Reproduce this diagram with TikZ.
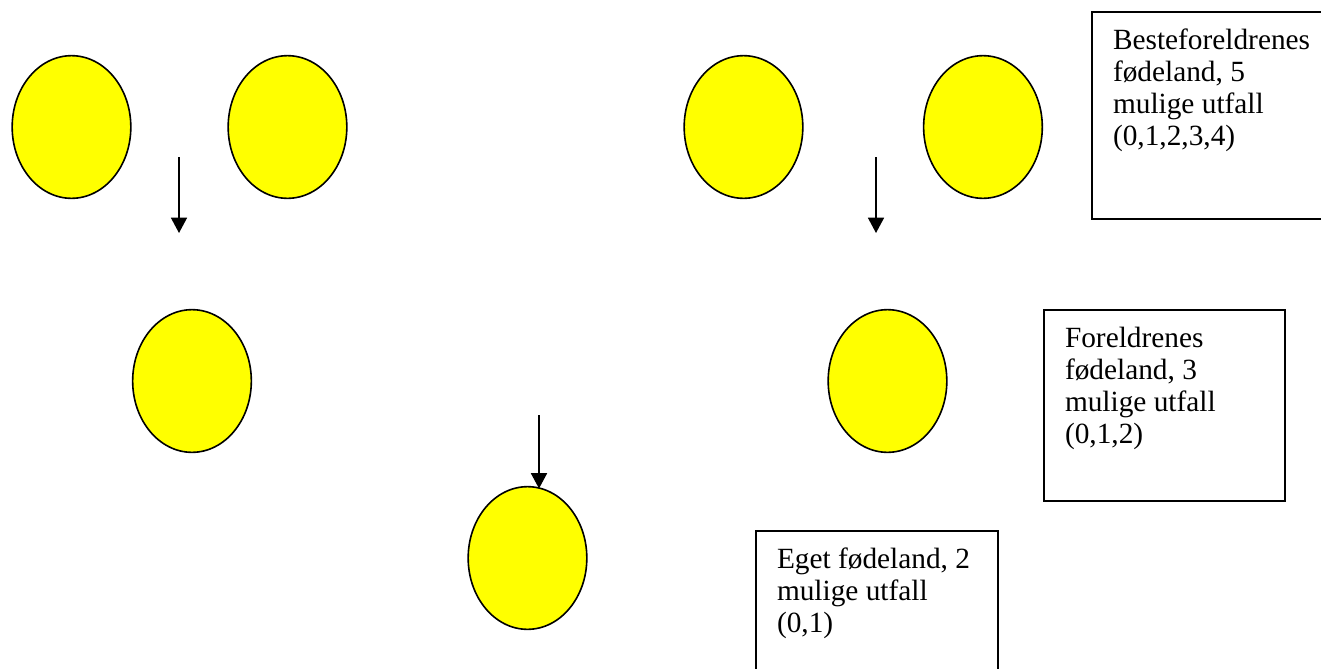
\documentclass[tikz,border=0pt]{standalone}
\usepackage{fontspec}
\setmainfont{Liberation Serif}
\usetikzlibrary{shapes.geometric,arrows.meta}
\definecolor{headyellow}{RGB}{255,255,0}

\begin{document}
\begin{tikzpicture}[
     x = 0.75pt, y = -0.75pt, % one unit is one pixel
     > = {Triangle[width=12pt,length=11.5pt]}, % arrow head style
     node distance = 162pt, % distance between nodes
     line width = 1.2pt % line style
 ]

 \tikzstyle{person}=[
     ellipse,
     draw = black,
     fill = headyellow,
     inner sep = 0pt,
     minimum width = 89pt,
     minimum height = 107pt
 ]
 \tikzstyle{infobox} = [
   draw = black,
   line width = 1.5pt,
   rectangle,
   anchor = north west,
   inner xsep = 15.75pt,
   inner ysep = 10.95pt,
   font = \fontsize{22}{24}\selectfont]

 \clip (0,0) rectangle (1321,668);

 \node[person] (gp1) at (71.5,127) {};
 \node[person] (gp2) [right of=gp1] {};
 \node[person] (gp3) at (743.5,127) {};
 \node[person] (gp4) [right of=gp3, node distance = 179.6pt] {};
 \node[person] (par1) at (192,381) {};
 \node[person] (par2) at (887.5,381) {};
 \node[person] (self) at (527.5,558) {};

 \coordinate (fromgp1) at (179,157);
 \coordinate (togp1) at (179,233);
 \coordinate (fromgp2) at (876,157);
 \coordinate (togp2) at (876,233);
 \coordinate (frompar) at (539,415);

 \draw[->] (fromgp1) -- (togp1);
 \draw[->] (fromgp2) -- (togp2);
 \draw[->] (frompar) -- ([yshift=-2pt]frompar |- self.north);

 \node[infobox] (gpbox) at (1091,11) {
  \begin{minipage}[t][133.35pt][t]{149.25pt}
   \strut Besteforeldrenes\\
   fødeland, 5\\
   mulige utfall\\
   (0,1,2,3,4)
  \end{minipage}
 };
 \node[infobox] (parbox) at (1043,309) {
  \begin{minipage}[t][121.35pt][t]{149.25pt}
   \strut Foreldrenes\\
   fødeland, 3\\
   mulige utfall\\
   (0,1,2)
  \end{minipage}
 };
 \node[infobox] (selfbox) at (755,530) {
  \begin{minipage}[t][121.35pt][t]{150pt}
   \strut Eget fødeland, 2\\
   mulige utfall\\
   (0,1)
  \end{minipage}
 };
\end{tikzpicture}
\end{document}
